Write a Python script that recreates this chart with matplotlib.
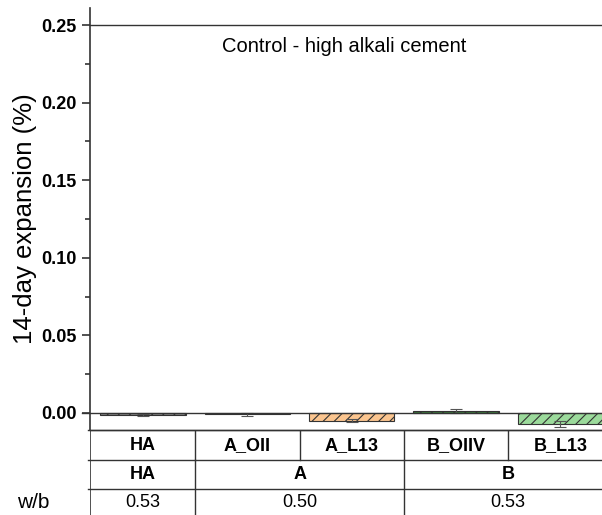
import numpy as np
import matplotlib
matplotlib.use('Agg')
from matplotlib import pyplot as plt

# data
samples = ['HA', 'A_OII', 'A_L13', 'B_OIIV', 'B_L13']
expansion = [-0.0012, -0.0010, -0.0050, 0.0012, -0.0070]
errors = [0.0006, 0.0008, 0.0010, 0.0015, 0.0020]
groups = ['HA', 'A', 'B']
group_spans = [(0, 0), (1, 2), (3, 4)]
wb = ['0.53', '0.50', '0.53']
colors = ['#8a8a8a', '#c9a27c', '#fbc58f', '#3d7a3d', '#9bda9b']
hatches = ['///', '///', '///', '///', '///']

plt.rcParams['font.family'] = ['Liberation Sans', 'DejaVu Sans']
plt.rcParams['hatch.linewidth'] = 0.8

W, H = 602, 515
fig = plt.figure(figsize=(W / 100, H / 100), dpi=100)

x = np.arange(len(samples))
xlim = (-0.51, 4.4)

ax = fig.add_axes([90 / W, 1 - 430 / H, 1 - 90 / W, 422 / H])
for i in range(len(samples)):
    ax.bar(x[i], expansion[i], width=0.82, color=colors[i], edgecolor='#333333',
           hatch=hatches[i], linewidth=0.8, zorder=2)
ax.errorbar(x, expansion, yerr=errors, fmt='none', ecolor='#555555',
            elinewidth=0.8, capsize=4, capthick=0.8, zorder=3)
ax.axhline(0, color='#333333', lw=1, zorder=4, clip_on=False, xmin=-0.015)
ax.axhline(0.25, color='#333333', lw=1, zorder=1)
ax.set_xlim(*xlim)
ax.set_ylim(-0.011, 0.261)
ax.set_xticks([])
ax.set_yticks([0.0, 0.05, 0.10, 0.15, 0.20, 0.25])
ax.set_yticks([0.025, 0.075, 0.125, 0.175, 0.225], minor=True)
ax.set_yticklabels(['%.2f' % v for v in ax.get_yticks()], fontweight='bold', fontsize=13)
ax.tick_params(axis='y', which='major', direction='out', length=6, width=1.2, color='#333333')
ax.tick_params(axis='y', which='minor', direction='out', length=3.5, width=1.2, color='#333333')
for s in ['top', 'right']:
    ax.spines[s].set_visible(False)
ax.spines['left'].set_linewidth(1.2)
ax.spines['left'].set_color('#333333')
ax.spines['bottom'].set_linewidth(1)
ax.spines['bottom'].set_color('#333333')
ax.set_ylabel('14-day expansion (%)', fontsize=18.5, labelpad=3)
ax.text(1.93, 0.2365, 'Control - high alkali cement', ha='center', va='center', fontsize=14.5)

# table below the chart
tab = fig.add_axes([90 / W, -3 / H, 1 - 90 / W, 88 / H])
tab.set_xlim(*xlim)
tab.set_ylim(3, 0)
tab.axis('off')
rows = [0, 1.03, 2.02, 3]
for r in rows[:-1]:
    tab.plot([xlim[0] - 0.02, xlim[1]], [r, r], color='#333333', lw=1, clip_on=False)
tab.plot([xlim[0], xlim[0]], [0, 3], color='#333333', lw=1.2)
for b in [0.5, 1.5, 2.5, 3.5]:
    tab.plot([b, b], [rows[0], rows[1]], color='#333333', lw=1)
for i, name in enumerate(samples):
    tab.text(x[i], (rows[0] + rows[1]) / 2, name, ha='center', va='center',
             fontsize=13, fontweight='bold')
for (a, b), g, w in zip(group_spans, groups, wb):
    if b < len(samples) - 1:
        tab.plot([b + 0.5, b + 0.5], [rows[1], rows[3]], color='#333333', lw=1)
    mid = (a + b) / 2
    tab.text(mid, (rows[1] + rows[2]) / 2, g, ha='center', va='center',
             fontsize=13, fontweight='bold')
    tab.text(mid, (rows[2] + rows[3]) / 2 - 0.05, w, ha='center', va='center', fontsize=13)
tab.text(xlim[0] - 0.54, (rows[2] + rows[3]) / 2 - 0.05, 'w/b', ha='center', va='center',
         fontsize=15, clip_on=False)

fig.savefig('out.png', dpi=100)
